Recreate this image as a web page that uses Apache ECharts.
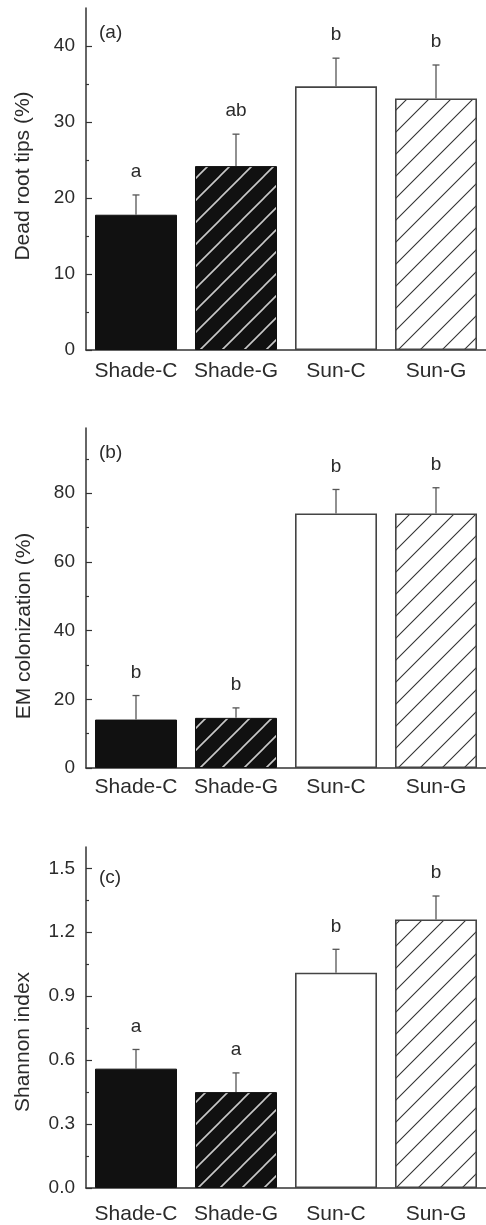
<!DOCTYPE html>
<html>
<head>
<meta charset="utf-8">
<style>
  html, body { margin: 0; padding: 0; background: #fff; }
  #chart { width: 486px; height: 1225px; }
</style>
<script src="https://cdn.jsdelivr.net/npm/echarts@6/dist/echarts.min.js"></script>
</head>
<body>
<div id="chart"></div>
<script>
// Treatments
const categories = ['Shade-C', 'Shade-G', 'Sun-C', 'Sun-G'];

// (a) Dead root tips (%)
const deadRootTips = [17.8, 24.2, 34.7, 33.1];
const deadRootTipsSE = [2.6, 4.2, 3.7, 4.4];
const deadRootTipsLetters = ['a', 'ab', 'b', 'b'];
const deadRootTipsTicks = [0, 10, 20, 30, 40];
const deadRootTipsMinor = [5, 15, 25, 35];

// (b) EM colonization (%)
const emColonization = [14.1, 14.6, 74.1, 74.1];
const emColonizationSE = [7.0, 2.9, 7.0, 7.5];
const emColonizationLetters = ['b', 'b', 'b', 'b'];
const emColonizationTicks = [0, 20, 40, 60, 80];
const emColonizationMinor = [10, 30, 50, 70, 90];

// (c) Shannon index
const shannonIndex = [0.56, 0.45, 1.01, 1.26];
const shannonIndexSE = [0.09, 0.09, 0.11, 0.11];
const shannonIndexLetters = ['a', 'a', 'b', 'b'];
const shannonIndexTicks = [0, 0.3, 0.6, 0.9, 1.2, 1.5];
const shannonIndexMinor = [0.15, 0.45, 0.75, 1.05, 1.35];

const FONT = '"Liberation Sans", Arial, Helvetica, sans-serif';
const TEXT = '#2b2b2b';
const AXIS = '#333';

// Diagonal "/" hatch tile
function hatch(bg, line, lw) {
  const s = 22;
  const c = document.createElement('canvas');
  c.width = s; c.height = s;
  const g = c.getContext('2d');
  g.fillStyle = bg;
  g.fillRect(0, 0, s, s);
  g.strokeStyle = line;
  g.lineWidth = lw;
  g.beginPath();
  g.moveTo(-2, 2); g.lineTo(2, -2);
  g.moveTo(0, s); g.lineTo(s, 0);
  g.moveTo(s - 2, s + 2); g.lineTo(s + 2, s - 2);
  g.stroke();
  return { image: c, repeat: 'repeat' };
}

const barStyles = [
  { color: '#111', borderColor: '#111', borderWidth: 1 },
  { color: hatch('#111', '#c8c8c8', 1.6), borderColor: '#111', borderWidth: 1 },
  { color: '#fff', borderColor: '#444', borderWidth: 1.6 },
  { color: hatch('#fff', '#333', 1.1), borderColor: '#444', borderWidth: 1.6 }
];

const panels = [
  { means: deadRootTips, se: deadRootTipsSE, letters: deadRootTipsLetters,
    ticks: deadRootTipsTicks, minor: deadRootTipsMinor, max: 45, digits: 0,
    grid: { top: 8, height: 342 }, catMargin: 11 },
  { means: emColonization, se: emColonizationSE, letters: emColonizationLetters,
    ticks: emColonizationTicks, minor: emColonizationMinor, max: 99, digits: 0,
    grid: { top: 428, height: 340 }, catMargin: 9 },
  { means: shannonIndex, se: shannonIndexSE, letters: shannonIndexLetters,
    ticks: shannonIndexTicks, minor: shannonIndexMinor, max: 1.6, digits: 1,
    grid: { top: 847, height: 341 }, catMargin: 16 }
];

const grid = [], xAxis = [], yAxis = [], series = [];

panels.forEach((p, k) => {
  grid.push({ left: 86, width: 402, top: p.grid.top, height: p.grid.height });

  xAxis.push({
    type: 'category', gridIndex: k, data: categories,
    axisLine: { lineStyle: { color: AXIS, width: 1.5 } },
    axisTick: { alignWithLabel: true, length: 6, lineStyle: { color: AXIS, width: 1.2 } },
    axisLabel: { interval: 0, margin: p.catMargin, color: TEXT, fontSize: 21, fontFamily: FONT }
  });

  // major ticks with labels
  yAxis.push({
    type: 'value', gridIndex: k, position: 'left', min: 0, max: p.max,
    axisLine: { show: true, lineStyle: { color: AXIS, width: 1.5 } },
    axisTick: { show: true, inside: true, length: 6, customValues: p.ticks,
                lineStyle: { color: AXIS, width: 1.2 } },
    axisLabel: { customValues: p.ticks, margin: 11, color: TEXT, fontSize: 19, fontFamily: FONT,
                 formatter: v => Number(v).toFixed(p.digits) },
    splitLine: { show: false }
  });
  // minor ticks
  yAxis.push({
    type: 'value', gridIndex: k, position: 'left', offset: 0, min: 0, max: p.max,
    axisLine: { show: false },
    axisTick: { show: true, inside: true, length: 3, customValues: p.minor,
                lineStyle: { color: AXIS, width: 1.2 } },
    axisLabel: { show: false },
    splitLine: { show: false }
  });

  series.push({
    type: 'bar', xAxisIndex: k, yAxisIndex: 2 * k, barWidth: 82,
    data: p.means.map((v, i) => ({ value: v, itemStyle: barStyles[i] })),
    z: 2
  });

  // error bars with significance letters
  series.push({
    type: 'custom', xAxisIndex: k, yAxisIndex: 2 * k, z: 3,
    data: p.means.map((v, i) => [i, v, p.se[i]]),
    renderItem: (params, api) => {
      const i = api.value(0);
      const mean = api.value(1);
      const hi = mean + api.value(2);
      const a = api.coord([i, mean]);
      const b = api.coord([i, hi]);
      const letter = p.letters[params.dataIndex];
      return {
        type: 'group',
        children: [
          { type: 'line', shape: { x1: b[0], y1: a[1], x2: b[0], y2: b[1] },
            style: { stroke: '#555', lineWidth: 1.3 } },
          { type: 'line', shape: { x1: b[0] - 3.5, y1: b[1], x2: b[0] + 3.5, y2: b[1] },
            style: { stroke: '#555', lineWidth: 1.3 } },
          { type: 'text',
            style: { text: letter, x: b[0], y: b[1] - 23, align: 'center', verticalAlign: 'middle',
                     fontSize: 19, fontFamily: FONT, fill: TEXT } }
        ]
      };
    }
  });
});

const titleFont = { fontSize: 21, fontFamily: FONT, fill: TEXT, align: 'center', verticalAlign: 'middle' };
const panelFont = { fontSize: 19, fontFamily: FONT, fill: TEXT, align: 'left', verticalAlign: 'middle' };

const graphic = [
  { type: 'text', x: 23, y: 176, rotation: Math.PI / 2, style: Object.assign({ text: 'Dead root tips (%)' }, titleFont) },
  { type: 'text', x: 24, y: 626, rotation: Math.PI / 2, style: Object.assign({ text: 'EM colonization (%)' }, titleFont) },
  { type: 'text', x: 23, y: 1042, rotation: Math.PI / 2, style: Object.assign({ text: 'Shannon index' }, titleFont) },
  { type: 'text', x: 99, y: 33, style: Object.assign({ text: '(a)' }, panelFont) },
  { type: 'text', x: 99, y: 453, style: Object.assign({ text: '(b)' }, panelFont) },
  { type: 'text', x: 99, y: 878, style: Object.assign({ text: '(c)' }, panelFont) }
];

const chart = echarts.init(document.getElementById('chart'), null, { renderer: 'canvas' });
chart.setOption({
  animation: false,
  backgroundColor: '#fff',
  grid, xAxis, yAxis, series, graphic
});
</script>
</body>
</html>
